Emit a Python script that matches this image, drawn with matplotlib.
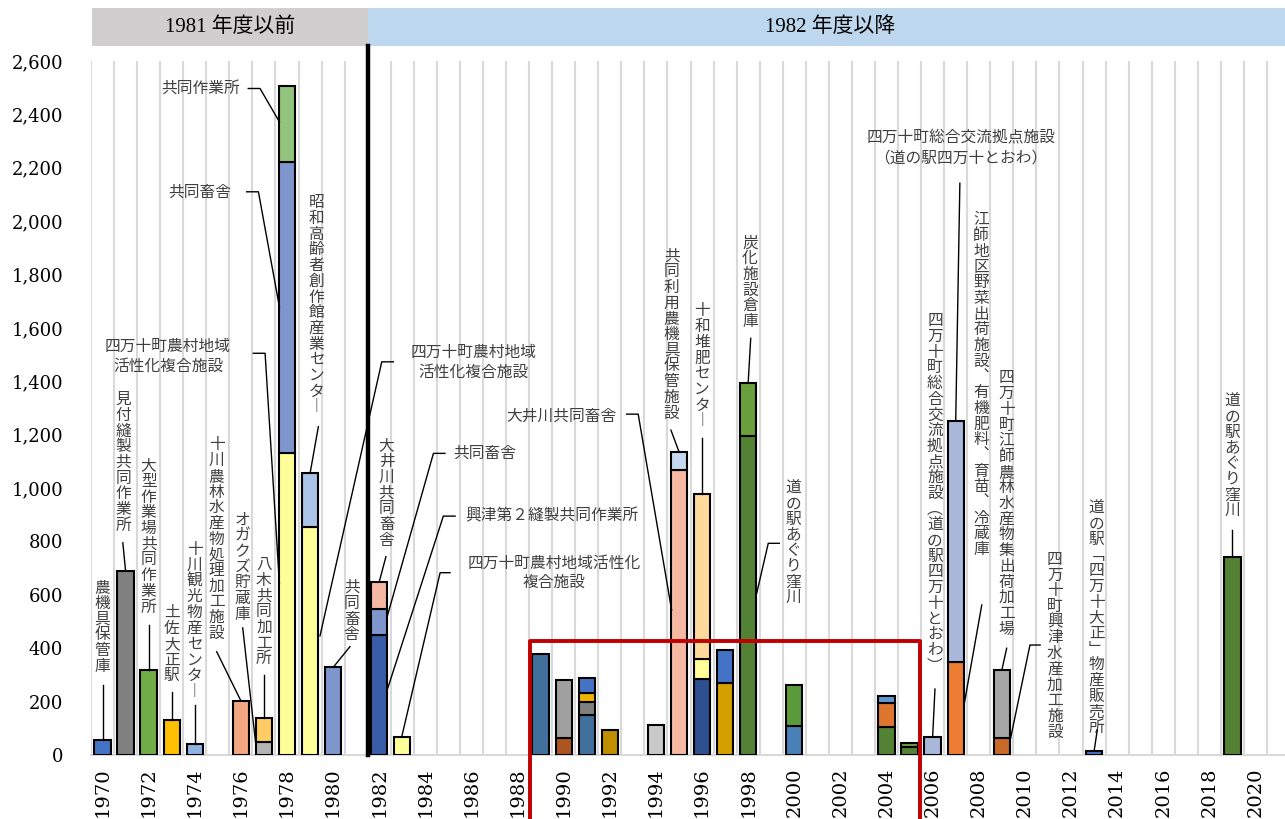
import matplotlib
matplotlib.use('Agg')
import matplotlib.pyplot as plt
from matplotlib.patches import Rectangle
from matplotlib.transforms import offset_copy

plt.rcParams['font.family'] = ['Noto Sans CJK JP', 'DejaVu Sans']

# ---- data (延床面積 per year, stacked by facility) ----
bar_years = [1970, 1971, 1972, 1973, 1974, 1976, 1977, 1978, 1979, 1980,
             1982, 1983, 1989, 1990, 1991, 1992, 1994, 1995, 1996, 1997,
             1998, 2000, 2004, 2005, 2006, 2007, 2009, 2013, 2019]
bar_values = [[55], [690], [320], [130], [42], [203], [50, 87],
              [1130, 1092, 283], [855, 200], [328],
              [450, 97, 102], [66], [378], [63, 218], [150, 50, 31, 56],
              [94], [112], [1068, 68], [285, 73, 620], [268, 125],
              [1195, 200], [110, 152], [106, 90, 25], [30, 15], [69],
              [350, 901], [63, 255], [14], [743]]
bar_colors = [['#4472C4'], ['#808080'], ['#70AD47'], ['#FFC000'], ['#8FB4E3'],
              ['#F4A582'], ['#B4B4B4', '#FFCC66'],
              ['#FFFF99', '#7F96CC', '#93C47D'], ['#FFFF99', '#A9C4E6'], ['#7F96CC'],
              ['#3A5DA8', '#7F96CC', '#F4B8A3'], ['#FFFF99'], ['#41709C'],
              ['#AA5522', '#A0A0A0'], ['#41709C', '#7F7F7F', '#F0B400', '#4472C4'],
              ['#BF8F00'], ['#C9C9C9'], ['#F4B8A3', '#C5D8EF'],
              ['#2F5090', '#FFFF99', '#FFD89B'], ['#D4A000', '#4472C4'],
              ['#548235', '#6A9F3E'], ['#4A80B8', '#5B9A3A'],
              ['#548235', '#DD7730', '#5B9BD5'], ['#548235', '#6A9F3E'], ['#A9B7DB'],
              ['#ED7D31', '#A9B7DB'], ['#C8692A', '#A6A6A6'], ['#4472C4'], ['#548235']]

x_first, x_last = 1970, 2020
y_ticks = list(range(0, 2601, 200))
header_left = '1981 年度以前'
header_right = '1982 年度以降'

# vertical labels: text, x, top y, leader line
v_labels = [
    ('農機具保管庫', 1970.0, 656, [(1970.0, 262), (1970.0, 55)]),
    ('見付縫製共同作業所', 1970.9, 1360, [(1970.88, 795), (1971.0, 690)]),
    ('大型作業場共同作業所', 1972.0, 1113, [(1972.0, 487), (1972.0, 320)]),
    ('土佐大正駅', 1973.0, 562, [(1973.0, 236), (1973.0, 130)]),
    ('十川観光物産センター', 1974.0, 798, [(1974.0, 187), (1974.0, 42)]),
    ('十川農林水産物処理加工施設', 1974.95, 1191, [(1974.95, 387), (1976.0, 203)]),
    ('オガクズ貯蔵庫', 1976.08, 910, [(1976.08, 476), (1976.64, 45)]),
    ('八木共同加工所', 1977.0, 742, [(1977.0, 300), (1977.0, 137)]),
    ('昭和高齢者創作館産業センター', 1979.29, 2098, [(1979.36, 1230), (1979.0, 1055)]),
    ('共同畜舎', 1980.81, 656, [(1980.73, 406), (1980.0, 328)]),
    ('大井川共同畜舎', 1982.32, 1187, [(1982.29, 743), (1982.0, 649)]),
    ('共同利用農機具保管施設', 1994.68, 1899, [(1994.65, 1217), (1995.0, 1136)]),
    ('十和堆肥センター', 1996.0, 1693, [(1996.0, 1187), (1996.0, 978)]),
    ('炭化施設倉庫', 1998.08, 1948, [(1998.11, 1561), (1998.0, 1395)]),
    ('道の駅あぐり窪川', 1999.96, 1030, [(1999.35, 793), (1998.87, 793), (1998.37, 606)]),
    ('四万十町総合交流拠点施設（道の駅四万十とおわ）', 2006.1, 1656,
     [(2006.1, 247), (2006.0, 69)]),
    ('江師地区野菜出荷施設、有機肥料、育苗、冷蔵庫', 2008.1, 2034,
     [(2008.13, 562), (2007.36, 187)]),
    ('四万十町江師農林水産物集出荷加工場', 2009.21, 1442, [(2009.21, 400), (2009.0, 318)]),
    ('四万十町興津水産加工施設', 2011.3, 762, [(2010.66, 412), (2010.22, 412), (2009.38, 63)]),
    ('道の駅「四万十大正」物産販売所', 2013.11, 955, [(2013.14, 94), (2013.0, 14)]),
    ('道の駅あぐり窪川', 2019.0, 1356, [(2019.0, 843), (2019.0, 743)]),
]

# horizontal labels: lines, x, first-line y, alignment, leader line
h_labels = [
    (['共同作業所'], 1975.96, 2499, 'right', [(1976.32, 2497), (1976.83, 2497), (1977.67, 2372)]),
    (['共同畜舎'], 1975.6, 2109, 'right', [(1976.25, 2110), (1976.76, 2110), (1977.67, 1679)]),
    (['四万十町農村地域', '活性化複合施設'], 1972.84, 1532, 'center',
     [(1976.54, 1505), (1977.05, 1505), (1977.67, 644)]),
    (['四万十町農村地域', '活性化複合施設'], 1986.07, 1510, 'center',
     [(1982.61, 1473), (1982.11, 1473), (1979.43, 446)]),
    (['共同畜舎'], 1985.2, 1131, 'left', [(1984.85, 1130), (1984.35, 1130), (1982.32, 511)]),
    (['興津第２縫製共同作業所'], 1985.72, 895, 'left',
     [(1985.29, 895), (1984.78, 895), (1982.32, 237)]),
    (['四万十町農村地域活性化', '複合施設'], 1989.58, 720, 'center',
     [(1985.07, 683), (1984.64, 683), (1982.97, 66)]),
    (['大井川共同畜舎'], 1992.3, 1270, 'right',
     [(1992.73, 1277), (1993.23, 1277), (1994.68, 543)]),
    (['四万十町総合交流拠点施設', '（道の駅四万十とおわ）'], 2007.23, 2311, 'center',
     [(2007.18, 2142), (2007.0, 1251)]),
]

VERT = {'ー': '︱', '、': '︑', '（': '︵', '）': '︶', '「': '﹁', '」': '﹂'}
TXT = '#404040'
FS = 11.3
PITCH = 11.3      # points per character (vertical)
LPITCH = 14.4     # points per line (horizontal)

fig = plt.figure(figsize=(12.85, 8.19), dpi=100)
ax = fig.add_axes([91 / 1285, 64 / 819, 1194 / 1285, 694 / 819])
ax.set_xlim(x_first - 0.5, 2021.28)
ax.set_ylim(0, 2600)

# vertical grid between categories
for yr in range(x_first, x_last + 1):
    ax.axvline(yr + 0.5, color='#D9D9D9', lw=1.5, zorder=0)
ax.axvline(x_first - 0.5, color='#D9D9D9', lw=1.5, zorder=0)

for yr, vals, cols in zip(bar_years, bar_values, bar_colors):
    bottom = 0
    for v, c in zip(vals, cols):
        ax.bar(yr, v, bottom=bottom, width=0.71, color=c, edgecolor='black',
               linewidth=1.5, zorder=3)
        bottom += v

for s in ['top', 'right', 'left']:
    ax.spines[s].set_visible(False)
ax.spines['bottom'].set_color('#D9D9D9')
ax.spines['bottom'].set_linewidth(1.5)

ax.set_yticks(y_ticks)
ax.set_yticklabels([f'{v:,}' for v in y_ticks], family='DejaVu Serif', fontsize=13)
ax.set_xticks(list(range(x_first, x_last + 1, 2)))
ax.set_xticklabels([str(v) for v in range(x_first, x_last + 1, 2)],
                   family='DejaVu Serif', fontsize=14, rotation=90)
ax.tick_params(axis='y', length=0, pad=20)
ax.tick_params(axis='x', length=0, pad=9)

# boundary 1981/1982 and highlight frame
ax.plot([1981.5, 1981.5], [0, 2658], color='black', lw=3.2, clip_on=False, zorder=5)
ax.plot([1988.54, 1988.54, 2005.45, 2005.45], [-320, 427, 427, -320],
        color='#C00000', lw=2.8, clip_on=False, zorder=6)

# header bands
ax.add_patch(Rectangle((1969.54, 2656), 1981.5 - 1969.54, 142, facecolor='#D0CECE',
                       edgecolor='none', clip_on=False))
ax.add_patch(Rectangle((1981.5, 2656), 2021.3 - 1981.5, 142, facecolor='#BDD7EE',
                       edgecolor='none', clip_on=False))
ax.text(1975.53, 2727, header_left, ha='center', va='center', fontsize=15,
        family=['Liberation Serif', 'Noto Sans CJK JP'], clip_on=False)
ax.text(2001.55, 2727, header_right, ha='center', va='center', fontsize=15,
        family=['Liberation Serif', 'Noto Sans CJK JP'], clip_on=False)

for text, x, ytop, line in v_labels:
    for i, ch in enumerate(text):
        tr = offset_copy(ax.transData, fig=fig, x=0, y=-(i + 0.5) * PITCH, units='points')
        ax.text(x, ytop, VERT.get(ch, ch), transform=tr, ha='center', va='center',
                fontsize=FS, color=TXT, zorder=7)
    xs, ys = zip(*line)
    ax.plot(xs, ys, color='black', lw=1.0, zorder=7)

for lines, x, y, ha, line in h_labels:
    for j, t in enumerate(lines):
        tr = offset_copy(ax.transData, fig=fig, x=0, y=-j * LPITCH, units='points')
        ax.text(x, y, t, transform=tr, ha=ha, va='center', fontsize=FS, color=TXT, zorder=7)
    xs, ys = zip(*line)
    ax.plot(xs, ys, color='black', lw=1.0, zorder=7)

fig.savefig('out.png', dpi=100)
